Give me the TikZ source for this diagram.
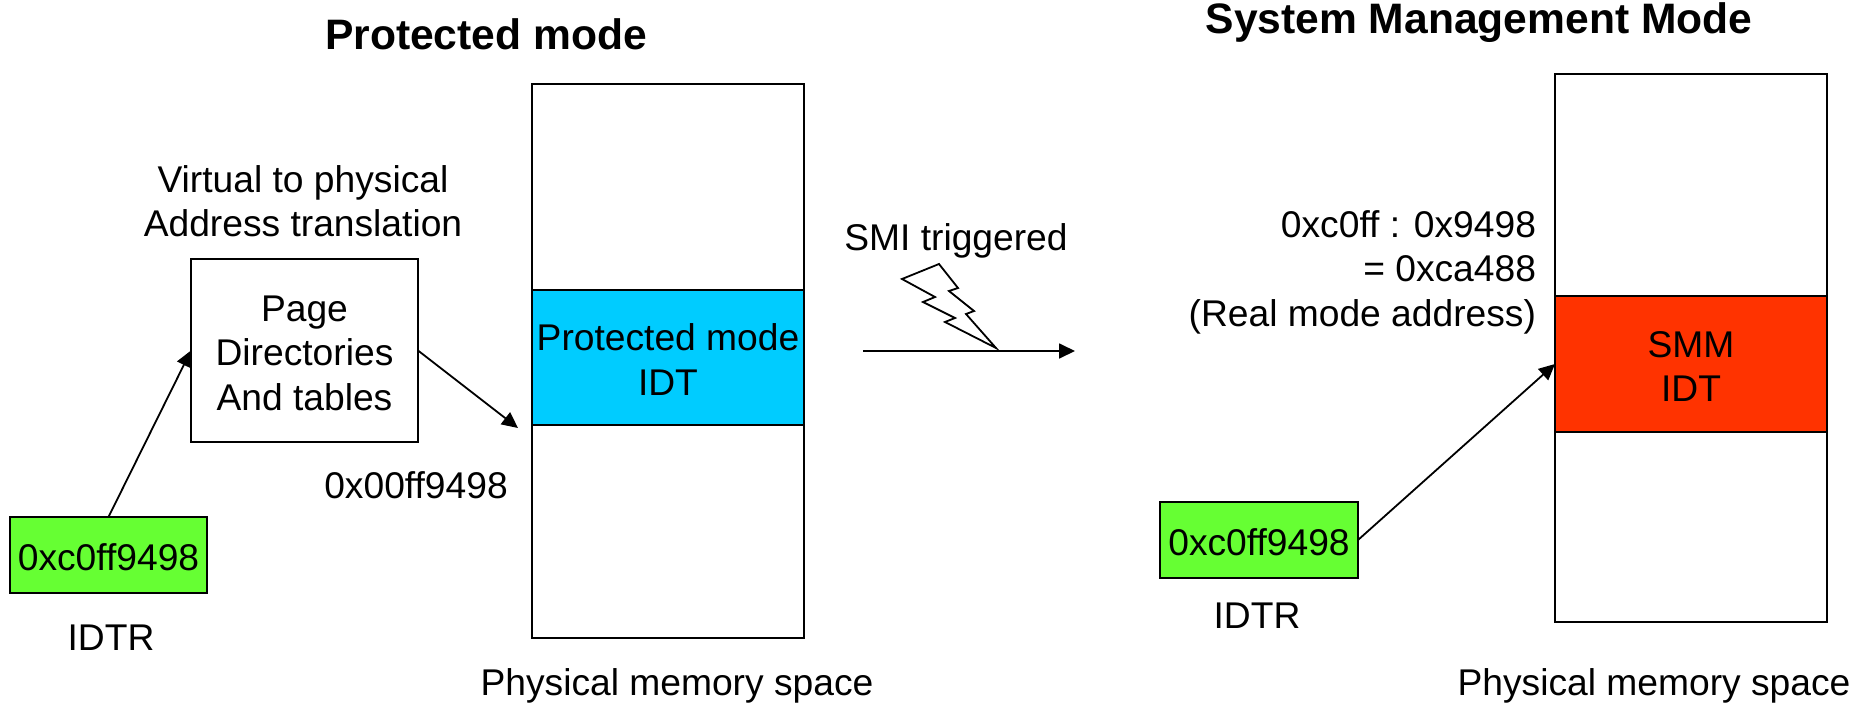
\documentclass[tikz,border=0pt]{standalone}
\usepackage{fontspec}
\setmainfont{Liberation Sans}
\usetikzlibrary{arrows.meta}
\definecolor{lime}{RGB}{102,255,51}
\definecolor{skyb}{RGB}{0,204,255}
\definecolor{redo}{RGB}{255,51,0}
\tikzset{
  x=0.5pt,y=-0.5pt,
  every node/.style={font=\fontsize{18.6}{22.3}\selectfont,inner sep=0pt,outer sep=0pt,align=center},
  box/.style={draw=black,line width=1pt,anchor=north west},
  conn/.style={line width=0.9pt,-{Triangle[length=8pt,width=7.5pt]}},
  title/.style={font=\fontsize{21.3}{26}\selectfont\bfseries},
}
\newcommand{\boxat}[7]{\node[box,fill=#6,minimum width=#4*0.5pt,minimum height=#5*0.5pt] (#1) at (#2,#3) {\rule{0pt}{15.5pt}#7};}
\begin{document}
\begin{tikzpicture}
\useasboundingbox (0,0) rectangle (1854,702);
\boxat{memL}{532}{84}{272}{554}{white}{}
\boxat{idtL}{532}{290}{272}{135}{skyb}{Protected mode\\IDT}
\boxat{page}{191}{259}{227}{183}{white}{Page\\Directories\\And tables}
\boxat{regL}{10}{517}{197}{76}{lime}{0xc0ff9498}
\boxat{memR}{1555}{74}{272}{548}{white}{}
\boxat{idtR}{1555}{296}{272}{136}{redo}{SMM\\IDT}
\boxat{regR}{1160}{502}{198}{76}{lime}{0xc0ff9498}
\node[title] (t1) at (486,34) {Protected mode};
\node[title] (t2) at (1479,23) {System Management Mode};
\node (vt) at (303,201) {Virtual to physical\\Address translation};
\node (pa) at (416,485) {0x00ff9498};
\node (id1) at (111,638) {IDTR};
\node (id2) at (1257,616) {IDTR};
\node (pm1) at (677,686) {Physical memory space};
\node (pm2) at (1654,686) {Physical memory space};
\node (smi) at (956,241) {SMI triggered};
\node[anchor=east,align=right] (rm) at (1536,272) {0xc0ff : 0x9498\\= 0xca488\\(Real mode address)};
\coordinate (idtEnd) at (518,428);
\coordinate (smiA) at (863,351);
\coordinate (smiB) at (1075,351);
\draw[conn] (regL.north) -- (page.west);
\draw[conn] (page.east) -- (idtEnd);
\draw[conn] (regR.east) -- (idtR.west);
\draw[conn] (smiA) -- (smiB);
\draw[line width=0.9pt,line join=miter] (902,279) -- (939,264) -- (958,288) -- (949,291) -- (974,311) -- (966,314) -- (996,348) -- (945,322) -- (955,318) -- (923,302) -- (935,297) -- cycle;
\end{tikzpicture}
\end{document}
